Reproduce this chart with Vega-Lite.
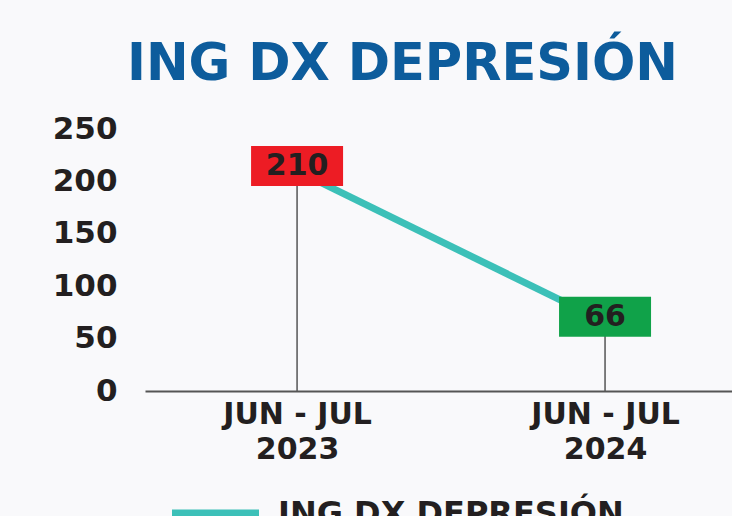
{
  "$schema": "https://vega.github.io/schema/vega-lite/v6.json",
  "autosize": {"type": "none"},
  "padding": {"left": 145, "top": 129, "right": 0, "bottom": 125},
  "width": 587,
  "height": 262,
  "background": "#f9f9fb",
  "config": {"view": {"stroke": null}, "font": "DejaVu Sans"},
  "title": {"text": "ING DX DEPRESIÓN", "fontSize": 51, "fontWeight": "bold", "color": "#0d5c9c", "anchor": "middle", "dx": -36, "offset": 22, "font": "DejaVu Sans"},
  "data": {"values": [
    {"period": "JUN - JUL|2023", "value": 210, "serie": "ING DX DEPRESIÓN"},
    {"period": "JUN - JUL|2024", "value": 66, "serie": "ING DX DEPRESIÓN"}
  ]},
  "encoding": {
    "x": {"field": "period", "type": "nominal", "sort": null,
      "scale": {"type": "point", "padding": 0.453, "align": 0.545},
      "axis": {"title": null, "labelExpr": "split(datum.label, '|')", "labelAngle": 0, "labelFontSize": 30, "labelFontWeight": "bold", "labelColor": "#231f20", "labelLineHeight": 35, "labelPadding": 8, "ticks": false, "domainColor": "#555555", "domainWidth": 2, "grid": false}},
    "y": {"field": "value", "type": "quantitative",
      "scale": {"domain": [0, 250]},
      "axis": {"title": null, "values": [0, 50, 100, 150, 200, 250], "labelFontSize": 31, "labelFontWeight": "bold", "labelColor": "#231f20", "labelPadding": 28, "ticks": false, "domain": false, "grid": false}}
  },
  "layer": [
    {"mark": {"type": "rule", "color": "#555555", "strokeWidth": 1.5}, "encoding": {"y2": {"datum": 0}}},
    {"mark": {"type": "line", "strokeWidth": 7},
      "encoding": {"color": {"field": "serie", "type": "nominal", "scale": {"range": ["#3cc0b8"]},
        "legend": {"title": null, "orient": "none", "legendX": 23, "legendY": 337, "symbolType": "stroke", "symbolSize": 7569, "symbolStrokeWidth": 8, "labelFontSize": 32, "labelFontWeight": "bold", "labelColor": "#231f20", "labelLimit": 600, "labelOffset": 15}}}},
    {"mark": {"type": "point", "filled": true, "opacity": 1, "shape": "M-1,-0.435L1,-0.435L1,0.435L-1,0.435Z", "size": 8464, "yOffset": -5, "strokeWidth": 0},
      "encoding": {"fill": {"field": "period", "type": "nominal", "sort": null, "scale": {"range": ["#ed1c24", "#10a249"]}, "legend": null}}},
    {"mark": {"type": "text", "dy": -5, "fontSize": 30, "fontWeight": "bold", "color": "#231f20"},
      "encoding": {"text": {"field": "value", "type": "quantitative"}}}
  ]
}
